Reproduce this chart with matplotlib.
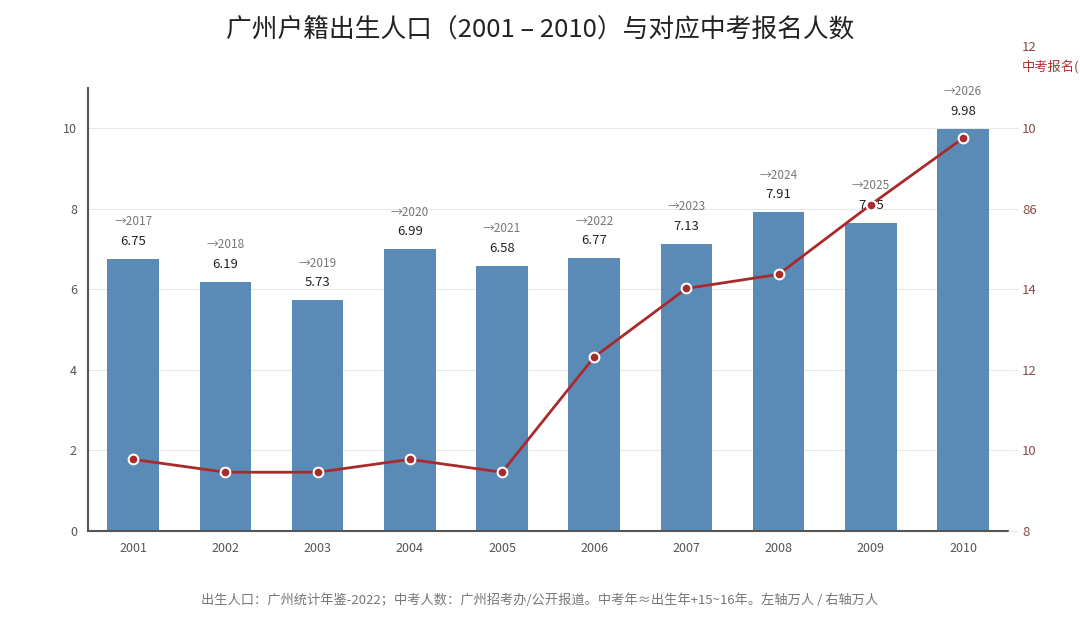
import matplotlib.pyplot as plt

plt.rcParams['font.family'] = ['Noto Sans CJK SC', 'DejaVu Sans']

years = ['2001', '2002', '2003', '2004', '2005', '2006', '2007', '2008', '2009', '2010']
births = [6.75, 6.19, 5.73, 6.99, 6.58, 6.77, 7.13, 7.91, 7.65, 9.98]
exam_years = ['2017', '2018', '2019', '2020', '2021', '2022', '2023', '2024', '2025', '2026']
exam_counts = [9.78, 9.46, 9.46, 9.78, 9.46, 12.32, 14.02, 14.37, 16.1, 17.75]
right_ticks = [8, 10, 12, 14, 16, 18]
right_labels = ['8', '10', '12', '14', '86', '10']

bar_color = '#5a8bb7'
line_color = '#a82a2a'

fig = plt.figure(figsize=(10.8, 6.27), dpi=100)
ax = fig.add_axes([0.0815, 0.153, 0.852, 0.707])
x = list(range(len(years)))

ax.bar(x, births, width=0.56, color=bar_color, zorder=2)
for i, v in enumerate(births):
    ax.text(i, v + 0.27, f'{v:.2f}', ha='center', va='bottom', fontsize=9.5, color='#222222')
    ax.text(i, v + 0.76, '→' + exam_years[i], ha='center', va='bottom', fontsize=8.5, color='#777777')

ax.set_xlim(-0.49, 9.49)
ax.set_ylim(0, 11)
ax.set_yticks([0, 2, 4, 6, 8, 10])
ax.set_xticks(x)
ax.set_xticklabels(years)
ax.grid(axis='y', color='#e8e8e8', linewidth=0.8, zorder=0)
ax.set_axisbelow(True)
for s in ['top', 'right']:
    ax.spines[s].set_visible(False)
ax.spines['left'].set_color('#555555')
ax.spines['bottom'].set_color('#555555')
ax.spines['left'].set_linewidth(1.5)
ax.spines['bottom'].set_linewidth(1.5)
ax.tick_params(axis='both', length=0, labelsize=9, colors='#555555', pad=8)

ax2 = ax.twinx()
ax2.plot(x, exam_counts, color=line_color, linewidth=2, marker='o', markersize=7,
         markerfacecolor=line_color, markeredgecolor='white', markeredgewidth=1.5, zorder=5)
ax2.set_ylim(8, 19)
ax2.set_yticks(right_ticks)
ax2.set_yticklabels(right_labels)
for s in ['top', 'right', 'left', 'bottom']:
    ax2.spines[s].set_visible(False)
ax2.tick_params(axis='y', length=7, width=0.8, color='#e8e8e8', labelsize=9.5,
                labelcolor='#8a4a4a', pad=3)
ax2.text(1.0145, 20, '12', transform=ax2.get_yaxis_transform(), ha='left', va='center',
         fontsize=9.5, color='#8a4a4a', clip_on=False)
ax2.text(1.0145, 1.047, '中考报名(', transform=ax2.transAxes, ha='left', va='center',
         fontsize=9.5, color='#b03030', clip_on=False)

fig.text(0.5, 0.952, '广州户籍出生人口（2001 – 2010）与对应中考报名人数', ha='center', va='center',
         fontsize=18.5, color='#222222')
fig.text(0.5, 0.043, '出生人口：广州统计年鉴-2022；中考人数：广州招考办/公开报道。中考年≈出生年+15~16年。左轴万人 / 右轴万人',
         ha='center', va='center', fontsize=9.5, color='#777777')

fig.savefig('out.png', dpi=100)
